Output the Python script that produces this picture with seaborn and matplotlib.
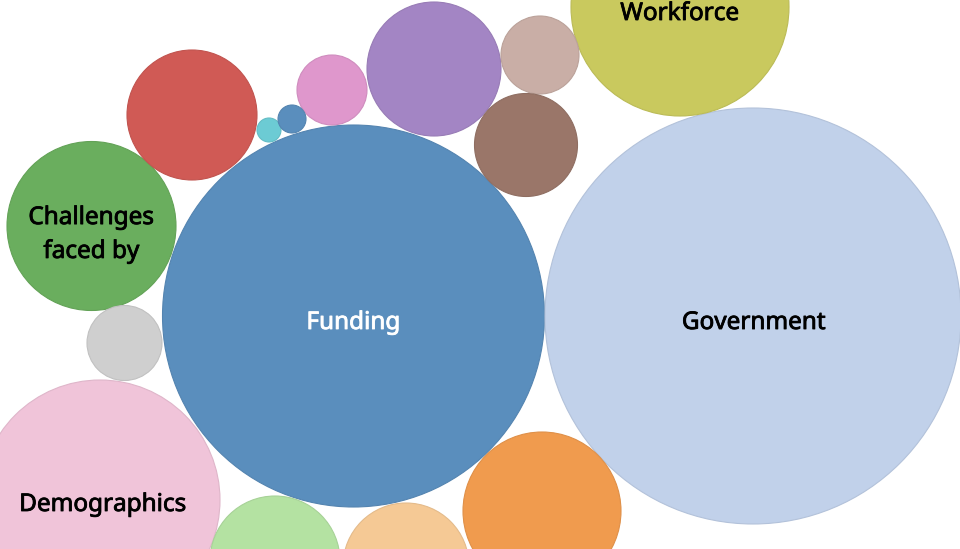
import matplotlib
matplotlib.use("Agg")
import matplotlib.pyplot as plt
import matplotlib.patheffects as pe
from matplotlib.patches import Circle
from matplotlib.colors import to_rgb
import seaborn as sns
import pandas as pd

# Bubble data (radius reflects value)
labels = ["Funding", "Government", "Workforce", "Challenges\nfaced by", "Demographics",
          "", "", "", "", "", "", "", "", "", "", ""]
radius = [191, 208, 109, 84.5, 120, 65, 67, 39, 51.5, 35, 12, 14, 37.5, 65, 63, 79]
colors = ["#5a8ebd", "#c1d1ea", "#c9c95e", "#6aae5e", "#f0c4d9",
          "#d05a55", "#a385c4", "#c9aea6", "#9a7669", "#df97cc",
          "#6ccbd4", "#5a8ebd", "#cfcfcf", "#b4e2a2", "#f5c995", "#f09b4e"]
text_colors = ["white", "black", "black", "black", "black"] + ["black"] * 11

# Layout (packed positions, pixel space)
pos_x = [353.5, 753, 680, 91.5, 100, 192, 434, 540, 526, 332, 269, 292, 124.5, 275, 406, 542]
pos_y = [316, 316, 7, 226, 500, 115, 69, 55, 145, 90, 130, 119, 343, 561, 566, 511]
label_x = [353.5, 754, 680, 91.5, 103]
label_y = [323, 323, 14, 235, 505]

df = pd.DataFrame({"label": labels, "r": radius, "x": pos_x, "y": pos_y, "color": colors})

sns.set_theme(style="white")
plt.rcParams["font.family"] = ["Noto Sans", "DejaVu Sans"]

fig = plt.figure(figsize=(9.6, 5.49), dpi=100)
ax = fig.add_axes([0, 0, 1, 1])
ax.set_xlim(0, 960)
ax.set_ylim(549, 0)
ax.set_aspect("equal")
ax.axis("off")

for i, row in df.iterrows():
    c = to_rgb(row["color"])
    edge = tuple(v * 0.93 for v in c)
    ax.add_patch(Circle((row["x"], row["y"]), row["r"], facecolor=c,
                        edgecolor=edge, linewidth=0.8))
    if row["label"]:
        tc = text_colors[i]
        ax.text(label_x[i], label_y[i], row["label"], ha="center", va="center",
                fontsize=17.5, color=tc, linespacing=1.55,
                path_effects=[pe.withStroke(linewidth=0.6, foreground=tc)])

fig.savefig("out.png", dpi=100)
